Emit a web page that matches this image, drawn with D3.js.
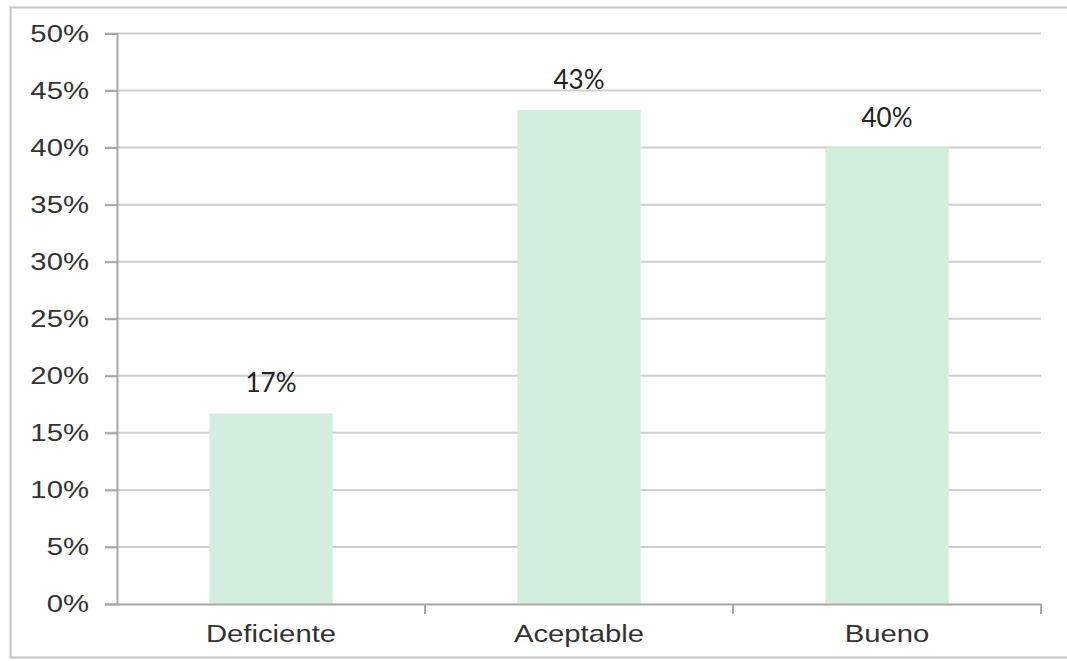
<!DOCTYPE html>
<html>
<head>
<meta charset="utf-8">
<script src="https://cdn.jsdelivr.net/npm/d3@7"></script>
<style>
  body { margin: 0; background: #fff; }
  svg { display: block; }
</style>
</head>
<body>
<div id="chart"></div>
<script>
const categories = ["Deficiente", "Aceptable", "Bueno"];
const values = [16.7, 43.3, 40];
const valueLabels = ["17%", "43%", "40%"];
const yTicks = [0, 5, 10, 15, 20, 25, 30, 35, 40, 45, 50];

const W = 1067, H = 661;
const margin = {left: 117, right: 26, top: 33.5, bottom: 57};
const stretch = 1.22;

const svg = d3.select("#chart").append("svg")
    .attr("width", W)
    .attr("height", H);

// outer frame (right side runs off the picture)
svg.append("rect")
    .attr("x", 10.5).attr("y", 7.5)
    .attr("width", W + 10).attr("height", 650)
    .attr("fill", "#fff")
    .attr("stroke", "#c4c4c4")
    .attr("stroke-width", 2);

const x = d3.scaleBand()
    .domain(categories)
    .range([margin.left, W - margin.right])
    .paddingInner(0.6)
    .paddingOuter(0.3);

const y = d3.scaleLinear()
    .domain([0, 50])
    .range([H - margin.bottom, margin.top]);

// gridlines
svg.append("g")
    .selectAll("line")
    .data(yTicks.slice(1))
    .join("line")
    .attr("x1", margin.left - 12)
    .attr("x2", W - margin.right)
    .attr("y1", d => y(d))
    .attr("y2", d => y(d))
    .attr("stroke", "#cfcfcf")
    .attr("stroke-width", 2);

// bars
svg.append("g")
    .selectAll("rect")
    .data(categories)
    .join("rect")
    .attr("x", d => x(d))
    .attr("width", x.bandwidth())
    .attr("y", (d, i) => y(values[i]))
    .attr("height", (d, i) => y(0) - y(values[i]))
    .attr("fill", "#d3eedc");

// value labels
svg.append("g")
    .selectAll("text")
    .data(categories)
    .join("text")
    .attr("x", d => x(d) + x.bandwidth() / 2)
    .attr("y", (d, i) => y(values[i]) - 21)
    .attr("text-anchor", "middle")
    .style("font-family", "Lato, 'Open Sans', sans-serif")
    .style("font-size", "26px")
    .attr("fill", "#222")
    .text((d, i) => valueLabels[i]);

// y axis
const yAxis = svg.append("g")
    .attr("transform", "translate(" + margin.left + ",0)")
    .call(d3.axisLeft(y).tickValues(yTicks).tickFormat(d => d + "%").tickSize(12).tickPadding(0));
yAxis.select(".domain").attr("stroke", "#a8a8a8").attr("stroke-width", 2);
yAxis.selectAll(".tick line").attr("stroke", "#a8a8a8").attr("stroke-width", 2);
yAxis.selectAll(".tick text")
    .attr("x", -23)
    .attr("transform", "scale(" + stretch + ",1)")
    .style("font-family", "'Liberation Sans', Arial, sans-serif")
    .style("font-size", "24px")
    .attr("fill", "#333");

// x axis
const xAxis = svg.append("g")
    .attr("transform", "translate(0," + y(0) + ")")
    .call(d3.axisBottom(x).tickSize(0).tickPadding(0));
xAxis.select(".domain").attr("stroke", "#a8a8a8").attr("stroke-width", 2);
xAxis.selectAll(".tick text")
    .attr("y", 38)
    .attr("dy", 0)
    .attr("transform", "scale(" + stretch + ",1)")
    .style("font-family", "'Liberation Sans', Arial, sans-serif")
    .style("font-size", "24px")
    .attr("fill", "#333");

// category separator ticks
const span = (W - margin.right - margin.left) / categories.length;
xAxis.append("g")
    .selectAll("line")
    .data(categories)
    .join("line")
    .attr("x1", (d, i) => margin.left + (i + 1) * span)
    .attr("x2", (d, i) => margin.left + (i + 1) * span)
    .attr("y1", 0)
    .attr("y2", 10)
    .attr("stroke", "#a8a8a8")
    .attr("stroke-width", 2);
</script>
</body>
</html>
